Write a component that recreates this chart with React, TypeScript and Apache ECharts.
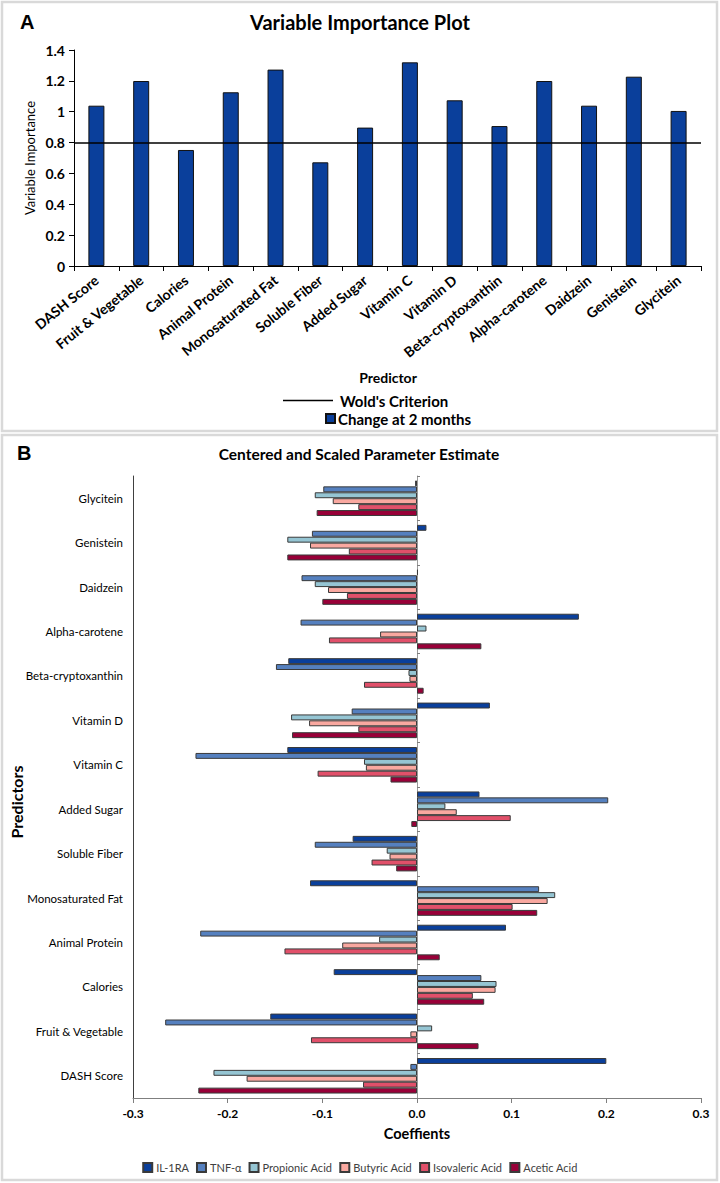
import React, { useEffect, useRef } from "react";
import * as echarts from "echarts";

const categories = [
  "DASH Score",
  "Fruit & Vegetable",
  "Calories",
  "Animal Protein",
  "Monosaturated Fat",
  "Soluble Fiber",
  "Added Sugar",
  "Vitamin C",
  "Vitamin D",
  "Beta-cryptoxanthin",
  "Alpha-carotene",
  "Daidzein",
  "Genistein",
  "Glycitein",
];

const importance = [1.039, 1.199, 0.752, 1.126, 1.273, 0.672, 0.897, 1.32, 1.074, 0.907, 1.199, 1.039, 1.227, 1.005];
const woldCriterion = 0.8;
const importanceTicks = [0, 0.2, 0.4, 0.6, 0.8, 1, 1.2, 1.4];

const il1ra = [0.2, -0.155, -0.088, 0.094, -0.113, -0.068, 0.066, -0.137, 0.077, -0.136, 0.171, 0.001, 0.01, -0.002];
const tnf = [-0.007, -0.266, 0.068, -0.229, 0.129, -0.108, 0.202, -0.234, -0.069, -0.149, -0.123, -0.122, -0.111, -0.099];
const propionic = [-0.215, 0.016, 0.084, -0.04, 0.146, -0.032, 0.03, -0.056, -0.133, -0.009, 0.01, -0.108, -0.137, -0.108];
const butyric = [-0.18, -0.007, 0.083, -0.079, 0.138, -0.029, 0.042, -0.054, -0.114, -0.008, -0.039, -0.094, -0.113, -0.089];
const isovaleric = [-0.057, -0.112, 0.059, -0.14, 0.101, -0.048, 0.099, -0.105, -0.062, -0.056, -0.093, -0.074, -0.072, -0.062];
const acetic = [-0.231, 0.065, 0.071, 0.024, 0.127, -0.022, -0.006, -0.028, -0.132, 0.007, 0.068, -0.1, -0.137, -0.106];

const seriesNamesB = ["IL-1RA", "TNF-\u03b1", "Propionic Acid", "Butyric Acid", "Isovaleric Acid", "Acetic Acid"];
const seriesDataB = [il1ra, tnf, propionic, butyric, isovaleric, acetic];
const seriesColorsB = ["#0a3f9b", "#5580bf", "#95c5d3", "#f9a8a0", "#e1506a", "#980038"];

const FONT = "Lato";

export default function App() {
  const ref = useRef<HTMLDivElement>(null);
  useEffect(() => {
    document.body.style.margin = "0";
    const chart = echarts.init(ref.current!, null, { renderer: "svg" });

    // In a horizontal bar chart ECharts puts the first series at the top of each group
    const barSeriesB: any[] = seriesNamesB.map((name, i) => ({
      name,
      type: "bar",
      xAxisIndex: 1,
      yAxisIndex: 1,
      data: seriesDataB[i],
      barGap: "0%",
      barCategoryGap: "20%",
      itemStyle: { color: seriesColorsB[i], borderColor: "#3a3a3a", borderWidth: 1 },
    }));

    const option: any = {
      animation: false,
      backgroundColor: "#ffffff",
      textStyle: { fontFamily: FONT },
      graphic: [
        { type: "rect", shape: { x: 2, y: 2, width: 715, height: 429 }, style: { fill: "none", stroke: "#d9d9d9", lineWidth: 2.5 } },
        { type: "rect", shape: { x: 2, y: 435, width: 715, height: 745 }, style: { fill: "none", stroke: "#d9d9d9", lineWidth: 2.5 } },
        { type: "text", x: 20, y: 12, style: { text: "A", font: "bold 20px 'Liberation Sans'", fill: "#000" } },
        { type: "text", x: 17, y: 443, style: { text: "B", font: "bold 20px 'Liberation Sans'", fill: "#000" } },
        { type: "text", x: 360, y: 22, style: { text: "Variable Importance Plot", font: `bold 20px ${FONT}`, fill: "#000", align: "center", verticalAlign: "middle" } },
        { type: "text", x: 30, y: 158, rotation: Math.PI / 2, style: { text: "Variable Importance", font: `13px ${FONT}`, fill: "#000", align: "center", verticalAlign: "middle" } },
        { type: "text", x: 388, y: 377, style: { text: "Predictor", font: `bold 14px ${FONT}`, fill: "#000", align: "center", verticalAlign: "middle" } },
        { type: "text", x: 359, y: 454, style: { text: "Centered and Scaled Parameter Estimate", font: `bold 15.5px ${FONT}`, fill: "#000", align: "center", verticalAlign: "middle" } },
        { type: "text", x: 16, y: 802, rotation: Math.PI / 2, style: { text: "Predictors", font: `bold 16px ${FONT}`, fill: "#000", align: "center", verticalAlign: "middle" } },
        { type: "text", x: 417, y: 1133, style: { text: "Coeffients", font: `bold 14.5px ${FONT}`, fill: "#000", align: "center", verticalAlign: "middle" } },
      ],
      legend: [
        {
          data: [{ name: "Wold's Criterion", icon: "rect" }],
          left: 278,
          top: 388,
          itemWidth: 50,
          itemHeight: 1.5,
          itemGap: 10,
          itemStyle: { color: "#000", borderWidth: 0 },
          textStyle: { fontFamily: FONT, fontWeight: "bold", fontSize: 15, color: "#000", padding: [0, 0, 0, 2] },
        },
        {
          data: [{ name: "Change at 2 months", icon: "rect" }],
          left: 320,
          top: 406,
          itemWidth: 9,
          itemHeight: 9,
          textStyle: { fontFamily: FONT, fontWeight: "bold", fontSize: 15, color: "#000", padding: [0, 0, 0, -2] },
        },
        {
          data: seriesNamesB.map((name) => ({ name, icon: "rect" })),
          left: "center",
          top: 1157,
          itemWidth: 9,
          itemHeight: 9,
          itemGap: 7,
          textStyle: { fontFamily: FONT, fontSize: 11, color: "#404040", padding: [0, 0, 0, -1] },
        },
      ],
      grid: [
        { left: 74, top: 50, width: 627, height: 216 },
        { left: 133, top: 476, width: 568, height: 622 },
      ],
      xAxis: [
        {
          type: "category",
          gridIndex: 0,
          data: categories,
          axisLine: { lineStyle: { color: "#000", width: 1 } },
          axisTick: { show: true, length: 5, lineStyle: { color: "#000" } },
          axisLabel: { rotate: 39, fontFamily: FONT, fontWeight: "bold", fontSize: 14, color: "#000", margin: 12, interval: 0 },
        },
        {
          type: "value",
          gridIndex: 1,
          min: -0.3,
          max: 0.3,
          interval: 0.1,
          splitLine: { show: false },
          axisLine: { show: true, lineStyle: { color: "#7f7f7f", width: 1 } },
          axisTick: { show: true, length: 5, lineStyle: { color: "#7f7f7f" } },
          axisLabel: {
            fontFamily: FONT,
            fontWeight: "bold",
            fontSize: 12,
            color: "#000",
            margin: 9,
            formatter: (v: number) => v.toFixed(1),
          },
        },
      ],
      yAxis: [
        {
          type: "value",
          gridIndex: 0,
          min: 0,
          max: 1.4,
          interval: 0.2,
          splitLine: { show: false },
          axisLine: { show: true, lineStyle: { color: "#000", width: 1 } },
          axisTick: { show: true, length: 5, lineStyle: { color: "#000" } },
          axisLabel: {
            fontFamily: FONT,
            fontWeight: "bold",
            fontSize: 14,
            color: "#000",
            margin: 9,
            customValues: importanceTicks,
          },
        },
        {
          type: "category",
          gridIndex: 1,
          data: categories,
          axisLine: { show: true, onZero: false, lineStyle: { color: "#404040", width: 1 } },
          axisTick: { show: false },
          axisLabel: { fontFamily: FONT, fontSize: 11.5, color: "#000", margin: 10 },
        },
        {
          type: "category",
          gridIndex: 1,
          data: categories,
          axisLine: { show: true, onZero: true, lineStyle: { color: "#9a9a9a", width: 1 } },
          axisTick: { show: true, length: 3, lineStyle: { color: "#7f7f7f" } },
          axisLabel: { show: false },
        },
      ],
      series: [
        {
          name: "Change at 2 months",
          type: "bar",
          xAxisIndex: 0,
          yAxisIndex: 0,
          data: importance,
          barWidth: 16,
          itemStyle: { color: "#0a3f9b", borderColor: "#111", borderWidth: 1 },
        },
        {
          name: "Wold's Criterion",
          type: "line",
          xAxisIndex: 0,
          yAxisIndex: 0,
          data: [],
          symbol: "none",
          color: "#000",
          lineStyle: { color: "#000", width: 1.5 },
          markLine: {
            silent: true,
            symbol: "none",
            label: { show: false },
            lineStyle: { color: "#000", width: 1.5, type: "solid" },
            data: [{ yAxis: woldCriterion }],
          },
        },
        ...barSeriesB,
      ],
    };
    chart.setOption(option);
    return () => chart.dispose();
  }, []);
  return <div ref={ref} style={{ width: 720, height: 1183, position: "absolute", left: 0, top: 0 }} />;
}
